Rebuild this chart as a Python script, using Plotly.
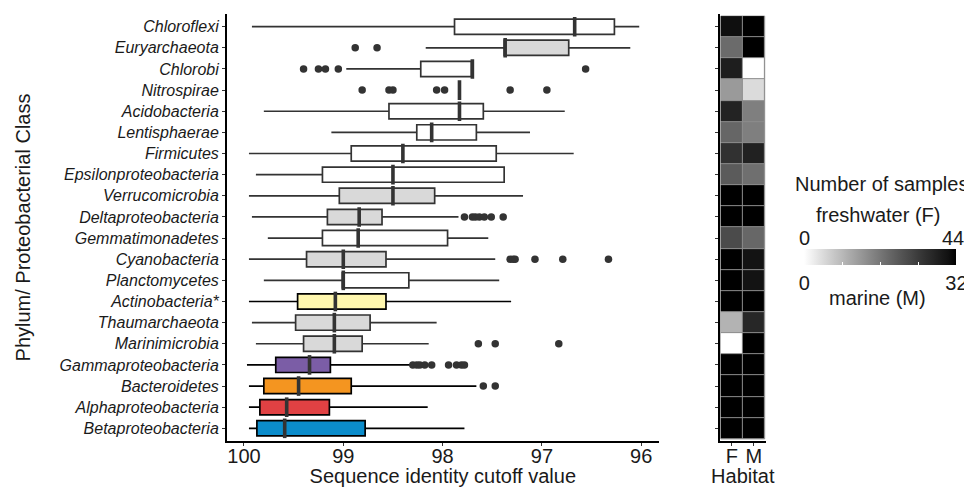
import plotly.graph_objects as go

# ---------------- data ----------------
categories = ["Chloroflexi", "Euryarchaeota", "Chlorobi", "Nitrospirae", "Acidobacteria",
              "Lentisphaerae", "Firmicutes", "Epsilonproteobacteria", "Verrucomicrobia",
              "Deltaproteobacteria", "Gemmatimonadetes", "Cyanobacteria", "Planctomycetes",
              "Actinobacteria*", "Thaumarchaeota", "Marinimicrobia", "Gammaproteobacteria",
              "Bacteroidetes", "Alphaproteobacteria", "Betaproteobacteria"]

whisker_low = [96.02, 96.11, 97.70, 97.83, 96.77, 97.12, 96.68, 97.38, 97.19, 97.84,
               97.54, 97.47, 97.43, 97.31, 98.06, 98.14, 98.31, 97.66, 98.15, 97.78]
q1 = [96.27, 96.73, 97.70, 97.83, 97.59, 97.66, 97.46, 97.38, 98.08, 98.61,
      97.95, 98.57, 98.34, 98.57, 98.73, 98.81, 99.13, 98.92, 99.14, 98.78]
median = [96.67, 97.37, 97.70, 97.83, 97.83, 98.11, 98.40, 98.50, 98.50, 98.84,
          98.85, 99.00, 99.00, 99.08, 99.09, 99.09, 99.34, 99.45, 99.57, 99.59]
q3 = [97.88, 97.38, 98.22, 97.83, 98.54, 98.26, 98.92, 99.21, 99.04, 99.16,
      99.21, 99.37, 99.01, 99.46, 99.48, 99.40, 99.68, 99.80, 99.84, 99.87]
whisker_high = [99.92, 98.17, 98.97, 97.83, 99.80, 99.12, 99.95, 99.88, 99.95, 99.92,
                99.76, 99.95, 99.80, 99.95, 99.92, 99.88, 99.97, 99.95, 99.95, 99.95]

outliers = [
    [],
    [98.88, 98.66],
    [99.40, 99.25, 99.18, 99.05, 96.56],
    [98.81, 98.54, 98.50, 98.06, 97.98, 97.32, 96.95],
    [], [], [], [], [],
    [97.78, 97.70, 97.67, 97.63, 97.58, 97.51, 97.39],
    [],
    [97.32, 97.29, 97.27, 97.07, 96.79, 96.33],
    [], [], [],
    [97.64, 97.47, 96.83],
    [98.30, 98.26, 98.23, 98.18, 98.11, 97.94, 97.86, 97.81, 97.78],
    [97.59, 97.47],
    [], [],
]

box_fill = ["#FFFFFF", "#D9D9D9", "#FFFFFF", "#FFFFFF", "#FFFFFF", "#FFFFFF", "#FFFFFF",
            "#FFFFFF", "#D9D9D9", "#D9D9D9", "#FFFFFF", "#D9D9D9", "#FFFFFF", "#FFF7AE",
            "#D9D9D9", "#D9D9D9", "#7B5DA6", "#F49520", "#E04143", "#0B8CCB"]
box_edge = ["#333333"] * 13 + ["#000000", "#333333", "#333333",
                               "#000000", "#000000", "#000000", "#000000"]

habitats = ["F", "M"]
freshwater_n = [42, 24, 39, 16, 38, 25, 35, 27, 44, 44, 30, 44, 44, 44, 12, 0, 44, 44, 44, 44]
marine_n = [32, 32, 0, 4, 15, 15, 28, 17, 32, 32, 18, 30, 30, 32, 27, 32, 32, 32, 32, 32]
freshwater_max = 44
marine_max = 32

x_ticks = [100, 99, 98, 97, 96]

# ---------------- styling helpers ----------------
FONT = "Liberation Sans, Arial, sans-serif"
TXT = "#1a1a1a"
PAGE_PAD = 8                      # default body margin of the html page
W, H = 972 - PAGE_PAD, 487 - PAGE_PAD
ML, MR, MT, MB = 219, 205.5, 5.5, 46
PW, PH = W - ML - MR, H - MT - MB


def px_x(px):   # screen pixel -> paper coordinate
    return (px - PAGE_PAD - ML) / PW


def px_y(py):
    return (H - MB - (py - PAGE_PAD)) / PH


# white -> black gradient interpolated in CIE Lab (like ggplot's scale_fill_gradient)
def lab_gray(t):
    L = 100 * (1 - t)
    Y = ((L + 16) / 116) ** 3 if L > 8 else L / 903.3
    s = 1.055 * Y ** (1 / 2.4) - 0.055 if Y > 0.0031308 else 12.92 * Y
    g = max(0, min(255, round(255 * s)))
    return f"rgb({g},{g},{g})"


gray_scale = [[i / 20, lab_gray(i / 20)] for i in range(21)]

fig = go.Figure()

# ---------------- boxplots ----------------
for i, cat in enumerate(categories):
    fig.add_trace(go.Box(
        y=[cat], orientation="h",
        lowerfence=[whisker_low[i]], q1=[q1[i]], median=[median[i]],
        q3=[q3[i]], upperfence=[whisker_high[i]],
        fillcolor=box_fill[i], line=dict(color=box_edge[i], width=1.7),
        whiskerwidth=0, width=0.72, boxpoints=False, showlegend=False,
        hoverinfo="skip", xaxis="x", yaxis="y"))

# thick median bars
fig.add_trace(go.Scatter(
    x=median, y=categories, mode="markers", xaxis="x", yaxis="y",
    marker=dict(symbol="line-ns", size=14, line=dict(color="#333333", width=3.6)),
    showlegend=False, hoverinfo="skip"))

# outliers
out_x, out_y = [], []
for cat, vals in zip(categories, outliers):
    out_x += vals
    out_y += [cat] * len(vals)
fig.add_trace(go.Scatter(
    x=out_x, y=out_y, mode="markers", xaxis="x", yaxis="y",
    marker=dict(symbol="circle", size=7.5, color="#333333"),
    showlegend=False, hoverinfo="skip"))

# ---------------- heatmap (each column scaled to its own maximum) ----------------
z_scaled = [[f / freshwater_max, m / marine_max] for f, m in zip(freshwater_n, marine_n)]
fig.add_trace(go.Heatmap(
    x=habitats, y=categories, z=z_scaled,
    zmin=0, zmax=1, colorscale=gray_scale, showscale=True,
    xgap=1, ygap=1, xaxis="x2", yaxis="y2", hoverinfo="skip",
    colorbar=dict(orientation="h", x=px_x(881), xanchor="center",
                  y=px_y(248.3), yanchor="top", len=152, lenmode="pixels",
                  thickness=16, thicknessmode="pixels", outlinewidth=0,
                  xpad=0, ypad=0,
                  tickvals=[0, 0.25, 0.5, 0.75, 1],
                  ticktext=["0", "", "", "", str(marine_max)],
                  ticks="inside", ticklen=3, tickcolor="white",
                  tickfont=dict(family=FONT, size=20, color=TXT))))

n = len(categories)
fig.add_shape(type="rect", xref="x2", yref="y2", x0=-0.5, x1=len(habitats) - 0.5,
              y0=-0.5, y1=n - 0.5, fillcolor="#8c8c8c",
              line=dict(color="#8c8c8c", width=1), layer="below")

axis_common = dict(showline=True, linecolor="black", linewidth=2, ticks="outside",
                   ticklen=3, tickwidth=1, tickcolor="#333333", showgrid=False,
                   zeroline=False, mirror=False)

fig.update_layout(
    width=W, height=H, paper_bgcolor="white", plot_bgcolor="white",
    margin=dict(l=ML, r=MR, t=MT, b=MB, autoexpand=False), boxmode="overlay",
    font=dict(family=FONT, color=TXT),
    xaxis=dict(domain=[0, px_x(659)], range=[100.171, 95.825], tickmode="array",
               tickvals=x_ticks, ticktext=[str(v) for v in x_ticks], anchor="y",
               tickangle=0, ticklabelstandoff=-7,
               tickfont=dict(family=FONT, size=20, color=TXT),
               title=dict(text="Sequence identity cutoff value", standoff=0,
                          font=dict(family=FONT, size=20, color=TXT)),
               **axis_common),
    yaxis=dict(domain=[0, 1], type="category", categoryorder="array",
               categoryarray=categories, tickmode="array", tickvals=categories,
               range=[n - 0.4, -0.6], anchor="x",
               tickfont=dict(family=FONT, size=16, color=TXT, style="italic"),
               title=dict(text="Phylum/ Proteobacterial Class", standoff=24,
                          font=dict(family=FONT, size=20, color=TXT)),
               **axis_common),
    xaxis2=dict(domain=[px_x(720), 1], type="category", categoryorder="array",
                categoryarray=habitats, tickmode="array", tickvals=habitats,
                range=[-0.56, len(habitats) - 0.44],
                anchor="y2", tickangle=0, ticklabelstandoff=-7,
                tickfont=dict(family=FONT, size=20, color=TXT),
                title=dict(text="Habitat", standoff=0,
                           font=dict(family=FONT, size=20, color=TXT)),
                **axis_common),
    yaxis2=dict(domain=[0, 1], type="category", categoryorder="array",
                categoryarray=categories, tickmode="array", tickvals=categories,
                range=[n - 0.4, -0.6], anchor="x2",
                showticklabels=False, **axis_common),
)

ann_font = dict(family=FONT, size=20, color=TXT)
for text, px, py in [("Number of samples", 882, 184),
                     ("freshwater (F)", 879, 215),
                     ("0", 805, 237.5),
                     (str(freshwater_max), 954, 237.5),
                     ("marine (M)", 878.5, 297.5)]:
    fig.add_annotation(text=text, x=px_x(px), y=px_y(py), xref="paper", yref="paper",
                       xanchor="center", yanchor="middle", showarrow=False, font=ann_font)

fig.write_html("out.html")
